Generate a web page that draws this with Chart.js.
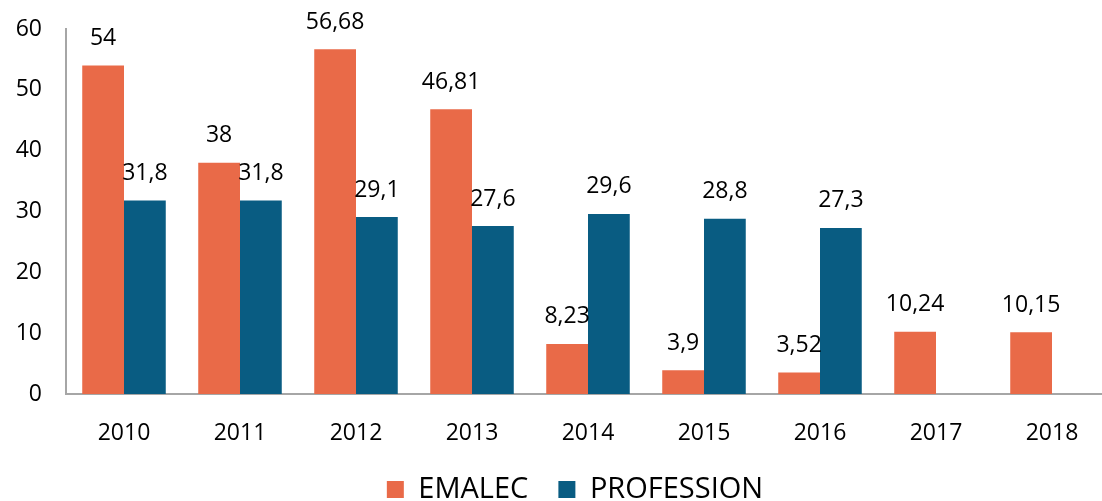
<!DOCTYPE html>
<html>
<head>
<meta charset="utf-8">
<script src="https://cdn.jsdelivr.net/npm/chart.js@4/dist/chart.umd.min.js"></script>
<style>
  html, body { margin: 0; padding: 0; background: #fff; overflow: hidden; }
  #wrap { width: 1110px; height: 514px; position: relative; }
</style>
</head>
<body>
<div id="wrap"><canvas id="myChart"></canvas></div>
<script>
let years = ['2010', '2011', '2012', '2013', '2014', '2015', '2016', '2017', '2018'];
let emalec = [54, 38, 56.68, 46.81, 8.23, 3.9, 3.52, 10.24, 10.15];
let profession = [31.8, 31.8, 29.1, 27.6, 29.6, 28.8, 27.3, null, null];
let yTicks = [0, 10, 20, 30, 40, 50, 60];

let fontName = "'Open Sans', 'Noto Sans', sans-serif";

// draws the value above each bar, with a comma as decimal mark
let barLabels = {
    id: 'barLabels',
    afterLayout(chart) {
        // legend sits a bit right of the canvas centre in the original
        chart.legend.left += 15;
        chart.legend.right += 15;
    },
    afterDatasetsDraw(chart) {
        let ctx = chart.ctx;
        ctx.save();
        ctx.font = '23px ' + fontName;
        ctx.fillStyle = '#000';
        ctx.textAlign = 'center';
        ctx.textBaseline = 'middle';
        chart.data.datasets.forEach((ds, i) => {
            chart.getDatasetMeta(i).data.forEach((bar, j) => {
                let v = ds.data[j];
                if (v === null) return;
                ctx.fillText(String(v).replace('.', ','), bar.x, bar.y - 27);
            });
        });
        ctx.restore();
    }
};

let ctx = document.getElementById('myChart').getContext('2d');
let chart = new Chart(ctx, {
    type: 'bar',
    data: {
        labels: years,
        datasets: [{
            label: 'EMALEC',
            backgroundColor: 'rgb(233, 106, 72)',
            data: emalec,
        }, {
            label: 'PROFESSION',
            backgroundColor: 'rgb(9, 92, 130)',
            data: profession,
        }]
    },
    options: {
        responsive: true,
        maintainAspectRatio: false,
        animation: false,
        layout: { padding: { top: 0, left: 10, right: 0, bottom: 0 } },
        datasets: { bar: { categoryPercentage: 0.72, barPercentage: 1 } },
        plugins: {
            tooltip: { enabled: false },
            legend: {
                position: 'bottom',
                labels: {
                    font: { family: fontName, size: 29 },
                    color: '#000',
                    boxWidth: 17,
                    boxHeight: 17,
                    padding: 30,
                }
            }
        },
        scales: {
            x: {
                grid: { display: false, drawTicks: false },
                border: { color: '#a6a6a6', width: 2 },
                ticks: { color: '#000', font: { family: fontName, size: 23 }, padding: 26 },
                afterFit: axis => { axis.height = 51; }
            },
            y: {
                min: 0,
                max: 60,
                afterBuildTicks: axis => { axis.ticks = yTicks.map(v => ({ value: v })); },
                grid: { display: false, drawTicks: false },
                border: { color: '#a6a6a6', width: 2 },
                ticks: { color: '#000', font: { family: fontName, size: 23 }, padding: 24 },
                afterFit: axis => {
                    axis.width = 56;
                    axis.paddingTop = 29;
                    axis.paddingBottom = 0;
                }
            }
        }
    },
    plugins: [barLabels]
});
</script>
</body>
</html>
